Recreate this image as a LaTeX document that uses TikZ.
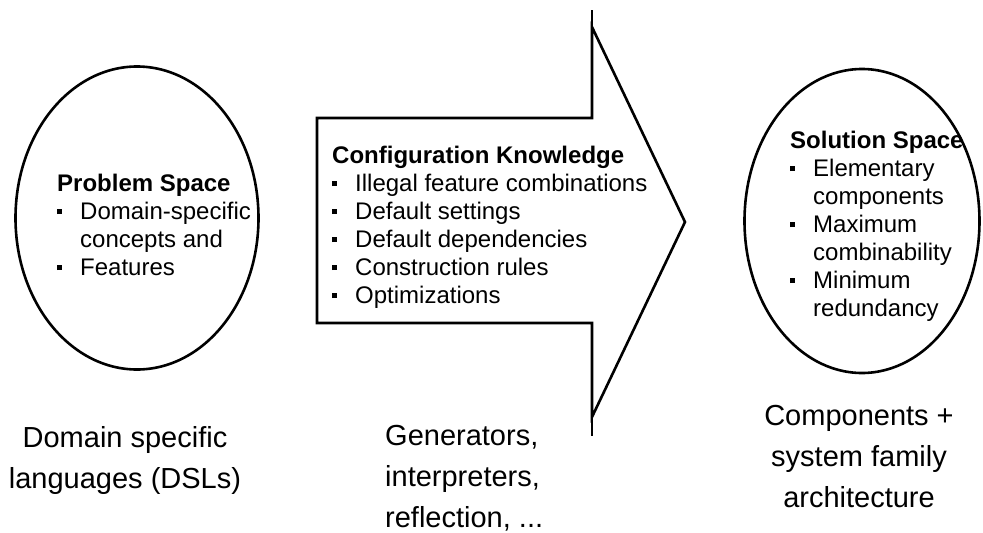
\documentclass[tikz,border=0pt]{standalone}
\usepackage{fontspec}
\setmainfont{Liberation Sans}
\usetikzlibrary{shapes.geometric}
\newcommand{\bsq}{\rule[5pt]{4.5pt}{5pt}}
\tikzset{
  space/.style={ellipse, draw, line width=2.6pt, inner sep=0pt},
  blocktext/.style={anchor=base west, inner sep=0pt, font=\fontsize{24}{28}\selectfont},
  lowtext/.style={inner sep=0pt, anchor=base, font=\fontsize{29}{41}\selectfont},
  bigarrow/.style={draw, line width=2.6pt, line join=miter},
}
\begin{document}
\begin{tikzpicture}[x=1pt,y=-1pt]
\useasboundingbox[fill=white] (0,0) rectangle (983,533);
% ellipses
\node[space, minimum width=243pt, minimum height=303pt] (ps) at (137,218) {};
\node[space, minimum width=235pt, minimum height=304pt] (ss) at (862,221) {};
% arrow
\draw[bigarrow] (317,118) coordinate (a1) -- (592,118) -- (592,27) coordinate (ht)
  -- (685,222) coordinate (tip) -- (592,417) coordinate (hb) -- (592,323) -- (317,323) -- cycle;
\coordinate (tt) at (592,10);
\coordinate (bt) at (592,436);
\draw[line width=2pt] (tt) -- (ht);
\draw[line width=2pt] (hb) -- (bt);
% block texts
\node[blocktext] (pst) at (57,191) {\begin{tabular}[t]{@{}p{23pt}@{}l@{}}
\multicolumn{2}{@{}l@{}}{\bfseries Problem Space}\\
\bsq & Domain-specific\\
 & concepts and\\
\bsq & Features
\end{tabular}};
\node[blocktext] (ckt) at (332,163) {\begin{tabular}[t]{@{}p{23pt}@{}l@{}}
\multicolumn{2}{@{}l@{}}{\bfseries Configuration Knowledge}\\
\bsq & Illegal feature combinations\\
\bsq & Default settings\\
\bsq & Default dependencies\\
\bsq & Construction rules\\
\bsq & Optimizations
\end{tabular}};
\node[blocktext] (sst) at (790,148) {\begin{tabular}[t]{@{}p{23pt}@{}l@{}}
\multicolumn{2}{@{}l@{}}{\bfseries Solution Space}\\
\bsq & Elementary\\
 & components\\
\bsq & Maximum\\
 & combinability\\
\bsq & Minimum\\
 & redundancy
\end{tabular}};
% lower texts
\node[lowtext] (dsl) at (125,447) {\begin{tabular}[t]{@{}c@{}}Domain specific\\languages (DSLs)\end{tabular}};
\node[lowtext, anchor=base west] (gen) at (385,445) {\begin{tabular}[t]{@{}l@{}}Generators,\\interpreters,\\reflection, ...\end{tabular}};
\node[lowtext] (comp) at (859,425) {\begin{tabular}[t]{@{}c@{}}Components +\\system family\\architecture\end{tabular}};
\end{tikzpicture}
\end{document}
